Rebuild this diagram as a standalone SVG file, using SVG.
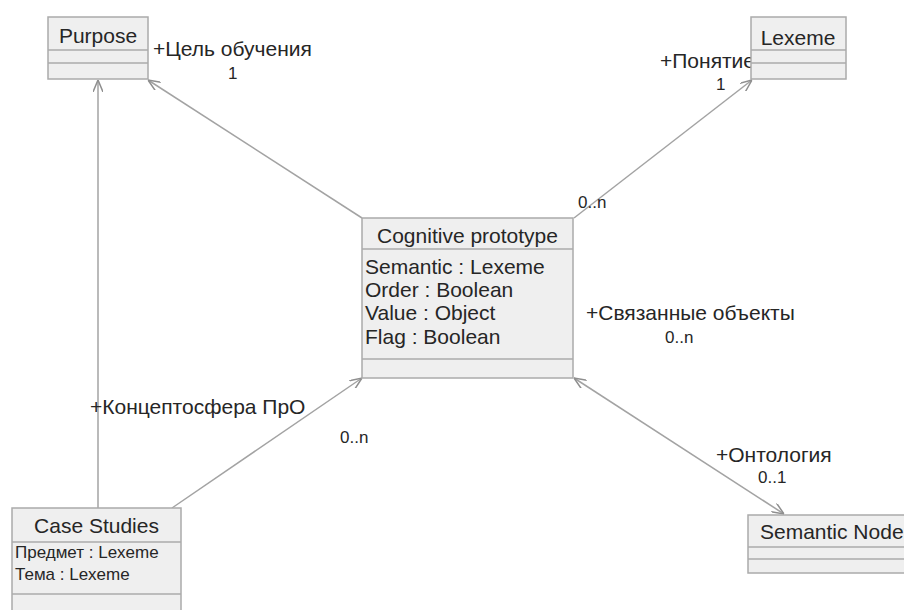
<svg xmlns="http://www.w3.org/2000/svg" width="904" height="610" viewBox="0 0 904 610">
<defs>
<style>
.box{fill:#efefef;stroke:#ababab;stroke-width:1.5}
.sep{stroke:#ababab;stroke-width:1.5}
.t{font-family:"Liberation Sans",Arial,sans-serif;fill:#262626}
.nm{font-size:21px;text-anchor:middle}
.at{font-size:21px}
.sa{font-size:17px}
.lb{font-size:21px}
.mu{font-size:17px}
.cn{fill:none;stroke:#a3a3a3;stroke-width:1.5}
</style>
<marker id="arr" viewBox="0 0 12 10" refX="12" refY="5" markerWidth="12" markerHeight="10" markerUnits="userSpaceOnUse" orient="auto-start-reverse">
<path d="M0,0 L12,5 L0,10" fill="none" stroke="#8f8f8f" stroke-width="1.5"/>
</marker>
</defs>
<rect width="904" height="610" fill="#ffffff"/>
<g id="connectors">
<line class="cn" x1="98" y1="508" x2="98" y2="80" marker-end="url(#arr)"/>
<line class="cn" x1="362" y1="218" x2="148" y2="80" marker-end="url(#arr)"/>
<line class="cn" x1="574" y1="218" x2="752" y2="80" marker-end="url(#arr)"/>
<line class="cn" x1="172" y1="508" x2="362" y2="378" marker-end="url(#arr)"/>
<line class="cn" x1="574" y1="378" x2="784" y2="514" marker-start="url(#arr)" marker-end="url(#arr)"/>
<text class="t lb" x="153" y="56">+Цель обучения</text>
<text class="t mu" x="228" y="79">1</text>
<text class="t lb" x="660" y="68">+Понятие</text>
<text class="t mu" x="716" y="90">1</text>
<text class="t mu" x="578" y="208">0..n</text>
<text class="t lb" x="90" y="414">+Концептосфера ПрО</text>
<text class="t mu" x="340" y="443">0..n</text>
<text class="t lb" x="586" y="320">+Связанные объекты</text>
<text class="t mu" x="665" y="343">0..n</text>
<text class="t lb" x="716" y="462">+Онтология</text>
<text class="t mu" x="758" y="483">0..1</text>
</g>
<g id="purpose">
<rect class="box" x="48" y="17" width="100" height="62"/>
<line class="sep" x1="48" y1="50" x2="148" y2="50"/>
<line class="sep" x1="48" y1="63" x2="148" y2="63"/>
<text class="t nm" x="98" y="43">Purpose</text>
</g>
<g id="lexeme">
<rect class="box" x="751" y="17" width="95" height="62"/>
<line class="sep" x1="751" y1="50" x2="846" y2="50"/>
<line class="sep" x1="751" y1="63" x2="846" y2="63"/>
<text class="t nm" x="798" y="45">Lexeme</text>
</g>
<g id="cognitive-prototype">
<rect class="box" x="362" y="218" width="211" height="160"/>
<line class="sep" x1="362" y1="249" x2="573" y2="249"/>
<line class="sep" x1="362" y1="359" x2="573" y2="359"/>
<text class="t nm" x="467.5" y="243">Cognitive prototype</text>
<text class="t at" x="365" y="274">Semantic : Lexeme</text>
<text class="t at" x="365" y="297">Order : Boolean</text>
<text class="t at" x="365" y="320">Value : Object</text>
<text class="t at" x="365" y="344">Flag : Boolean</text>
</g>
<g id="case-studies">
<rect class="box" x="12" y="508" width="169" height="110"/>
<line class="sep" x1="12" y1="542" x2="181" y2="542"/>
<line class="sep" x1="12" y1="594" x2="181" y2="594"/>
<text class="t nm" x="96.5" y="533">Case Studies</text>
<text class="t sa" x="15" y="558">Предмет : Lexeme</text>
<text class="t sa" x="15" y="580">Тема : Lexeme</text>
</g>
<g id="semantic-node">
<rect class="box" x="748" y="515" width="170" height="58"/>
<line class="sep" x1="748" y1="547" x2="918" y2="547"/>
<line class="sep" x1="748" y1="559" x2="918" y2="559"/>
<text class="t" x="760" y="539" font-size="21">Semantic Node</text>
</g>
</svg>
